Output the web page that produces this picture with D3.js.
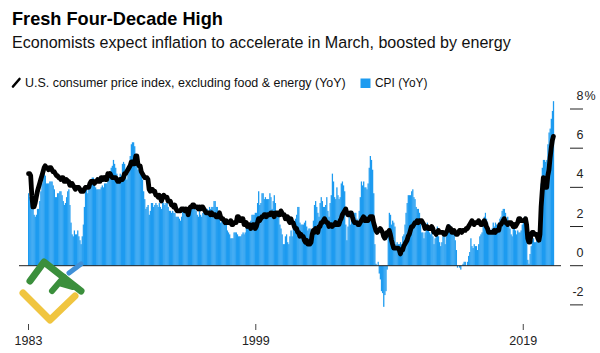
<!DOCTYPE html>
<html>
<head>
<meta charset="utf-8">
<script src="https://cdn.jsdelivr.net/npm/d3@7"></script>
<style>
  body { margin: 0; background: #fff; }
  text { font-family: "Liberation Sans", Arial, sans-serif; }
</style>
</head>
<body>
<div id="chart"></div>
<script>
// monthly YoY %, Jan 1983 .. Mar 2022 (last month = consensus forecast)
const startYear = 1983;

const cpi = [
  3.7, 3.5, 3.6, 3.9, 3.5, 2.6, 2.5, 2.6, 2.9, 2.9, 3.3, 3.8, // 1983
  4.2, 4.6, 4.8, 4.6, 4.2, 4.2, 4.2, 4.3, 4.3, 4.3, 4.1, 3.9, // 1984
  3.5, 3.5, 3.7, 3.7, 3.8, 3.8, 3.6, 3.3, 3.1, 3.2, 3.5, 3.8, // 1985
  3.9, 3.1, 2.2, 1.6, 1.5, 1.8, 1.6, 1.6, 1.8, 1.5, 1.3, 1.1, // 1986
  1.5, 2.1, 3.0, 3.8, 3.9, 3.7, 3.9, 4.3, 4.4, 4.5, 4.5, 4.4, // 1987
  4.0, 3.9, 3.9, 3.9, 3.9, 4.0, 4.1, 4.0, 4.2, 4.2, 4.2, 4.4, // 1988
  4.7, 4.8, 5.0, 5.1, 5.4, 5.2, 5.0, 4.7, 4.3, 4.5, 4.7, 4.6, // 1989
  5.2, 5.3, 5.2, 4.7, 4.4, 4.7, 4.8, 5.6, 6.2, 6.3, 6.3, 6.1, // 1990
  5.7, 5.3, 4.9, 4.9, 5.0, 4.7, 4.4, 3.8, 3.4, 2.9, 3.0, 3.1, // 1991
  2.6, 2.8, 3.2, 3.2, 3.0, 3.1, 3.2, 3.1, 3.0, 3.2, 3.0, 2.9, // 1992
  3.3, 3.2, 3.1, 3.2, 3.2, 3.0, 2.8, 2.8, 2.7, 2.8, 2.7, 2.7, // 1993
  2.5, 2.5, 2.5, 2.4, 2.3, 2.5, 2.8, 2.9, 3.0, 2.6, 2.7, 2.7, // 1994
  2.8, 2.9, 2.9, 3.1, 3.2, 3.0, 2.8, 2.6, 2.5, 2.8, 2.6, 2.5, // 1995
  2.7, 2.7, 2.8, 2.9, 2.9, 2.8, 3.0, 2.9, 3.0, 3.0, 3.3, 3.3, // 1996
  3.0, 3.0, 2.8, 2.5, 2.2, 2.3, 2.2, 2.2, 2.2, 2.1, 1.8, 1.7, // 1997
  1.6, 1.4, 1.4, 1.4, 1.7, 1.7, 1.7, 1.6, 1.5, 1.5, 1.5, 1.6, // 1998
  1.7, 1.6, 1.7, 2.3, 2.1, 2.0, 2.1, 2.3, 2.6, 2.6, 2.6, 2.7, // 1999
  2.7, 3.2, 3.8, 3.1, 3.2, 3.7, 3.7, 3.4, 3.5, 3.4, 3.4, 3.4, // 2000
  3.7, 3.5, 2.9, 3.3, 3.6, 3.2, 2.7, 2.7, 2.6, 2.1, 1.9, 1.6, // 2001
  1.1, 1.1, 1.5, 1.6, 1.2, 1.1, 1.5, 1.8, 1.5, 2.0, 2.2, 2.4, // 2002
  2.6, 3.0, 3.0, 2.2, 2.1, 2.1, 2.1, 2.2, 2.3, 2.0, 1.8, 1.9, // 2003
  1.9, 1.7, 1.7, 2.3, 3.1, 3.3, 3.0, 2.7, 2.5, 3.2, 3.5, 3.3, // 2004
  3.0, 3.0, 3.1, 3.5, 2.8, 2.5, 3.2, 3.6, 4.7, 4.3, 3.5, 3.4, // 2005
  4.0, 3.6, 3.4, 3.5, 4.2, 4.3, 4.1, 3.8, 2.1, 1.3, 2.0, 2.5, // 2006
  2.1, 2.4, 2.8, 2.6, 2.7, 2.7, 2.4, 2.0, 2.8, 3.5, 4.3, 4.1, // 2007
  4.3, 4.0, 4.0, 3.9, 4.2, 5.0, 5.6, 5.4, 4.9, 3.7, 1.1, 0.1, // 2008
  0.0, 0.2, -0.4, -0.7, -1.3, -1.4, -2.1, -1.5, -1.3, -0.2, 1.8, 2.7, // 2009
  2.6, 2.1, 2.3, 2.2, 2.0, 1.1, 1.2, 1.1, 1.1, 1.2, 1.1, 1.5, // 2010
  1.6, 2.1, 2.7, 3.2, 3.6, 3.6, 3.6, 3.8, 3.9, 3.5, 3.4, 3.0, // 2011
  2.9, 2.9, 2.7, 2.3, 1.7, 1.7, 1.4, 1.7, 2.0, 2.2, 1.8, 1.7, // 2012
  1.6, 2.0, 1.5, 1.1, 1.4, 1.8, 2.0, 1.5, 1.2, 1.0, 1.2, 1.5, // 2013
  1.6, 1.1, 1.5, 2.0, 2.1, 2.1, 2.0, 1.7, 1.7, 1.7, 1.3, 0.8, // 2014
  -0.1, 0.0, -0.1, -0.2, 0.0, 0.1, 0.2, 0.2, 0.0, 0.2, 0.5, 0.7, // 2015
  1.4, 1.0, 0.9, 1.1, 1.0, 1.0, 0.8, 1.1, 1.5, 1.6, 1.7, 2.1, // 2016
  2.5, 2.7, 2.4, 2.2, 1.9, 1.6, 1.7, 1.9, 2.2, 2.0, 2.2, 2.1, // 2017
  2.1, 2.2, 2.4, 2.5, 2.8, 2.9, 2.9, 2.7, 2.3, 2.5, 2.2, 1.9, // 2018
  1.6, 1.5, 1.9, 2.0, 1.8, 1.6, 1.8, 1.7, 1.7, 1.8, 2.1, 2.3, // 2019
  2.5, 2.3, 1.5, 0.3, 0.1, 0.6, 1.0, 1.3, 1.4, 1.2, 1.2, 1.4, // 2020
  1.4, 1.7, 2.6, 4.2, 5.0, 5.4, 5.4, 5.3, 5.4, 6.2, 6.8, 7.0, // 2021
  7.5, 7.9, 8.4                                               // 2022
];

const core = [
  4.7, 4.7, 4.6, 3.6, 3.0, 3.0, 3.2, 3.5, 3.8, 4.0, 4.2, 4.4, // 1983
  4.6, 4.8, 5.0, 5.1, 5.0, 5.0, 4.9, 5.0, 5.0, 4.9, 4.8, 4.8, // 1984
  4.7, 4.6, 4.6, 4.5, 4.5, 4.4, 4.5, 4.5, 4.3, 4.3, 4.4, 4.3, // 1985
  4.3, 4.1, 4.1, 4.2, 4.1, 4.0, 3.9, 4.0, 4.0, 4.0, 3.9, 3.8, // 1986
  3.8, 3.8, 3.9, 4.0, 4.0, 4.0, 4.0, 4.2, 4.3, 4.3, 4.3, 4.2, // 1987
  4.3, 4.3, 4.4, 4.3, 4.3, 4.5, 4.5, 4.4, 4.5, 4.4, 4.4, 4.7, // 1988
  4.6, 4.7, 4.6, 4.5, 4.5, 4.5, 4.5, 4.4, 4.3, 4.3, 4.4, 4.4, // 1989
  4.4, 4.5, 4.7, 4.7, 4.8, 4.9, 5.0, 5.1, 5.3, 5.3, 5.2, 5.2, // 1990
  5.6, 5.6, 5.2, 5.1, 5.1, 4.8, 4.7, 4.6, 4.5, 4.5, 4.5, 4.4, // 1991
  3.9, 3.8, 3.9, 3.9, 3.8, 3.8, 3.6, 3.6, 3.5, 3.6, 3.5, 3.3, // 1992
  3.5, 3.6, 3.5, 3.5, 3.5, 3.3, 3.3, 3.3, 3.1, 3.1, 3.0, 3.1, // 1993
  2.9, 2.8, 2.8, 2.8, 2.8, 2.9, 2.9, 2.9, 2.8, 2.9, 2.8, 2.6, // 1994
  2.9, 3.0, 3.0, 3.1, 3.1, 3.0, 3.0, 3.0, 2.9, 3.0, 2.9, 3.0, // 1995
  3.0, 2.9, 2.8, 2.7, 2.7, 2.7, 2.7, 2.6, 2.7, 2.6, 2.6, 2.6, // 1996
  2.5, 2.5, 2.5, 2.7, 2.5, 2.4, 2.4, 2.3, 2.2, 2.3, 2.2, 2.2, // 1997
  2.2, 2.3, 2.1, 2.1, 2.2, 2.2, 2.2, 2.5, 2.5, 2.3, 2.3, 2.4, // 1998
  2.4, 2.1, 2.1, 2.2, 2.0, 2.1, 2.1, 1.9, 2.0, 2.1, 2.1, 1.9, // 1999
  2.0, 2.2, 2.4, 2.3, 2.4, 2.5, 2.5, 2.6, 2.6, 2.5, 2.6, 2.6, // 2000
  2.6, 2.7, 2.7, 2.6, 2.5, 2.7, 2.7, 2.7, 2.6, 2.6, 2.8, 2.7, // 2001
  2.6, 2.6, 2.4, 2.5, 2.5, 2.3, 2.2, 2.4, 2.2, 2.2, 2.0, 1.9, // 2002
  1.9, 1.7, 1.7, 1.5, 1.6, 1.5, 1.5, 1.3, 1.2, 1.3, 1.1, 1.1, // 2003
  1.1, 1.2, 1.6, 1.8, 1.7, 1.9, 1.8, 1.7, 2.0, 2.0, 2.2, 2.2, // 2004
  2.3, 2.4, 2.3, 2.2, 2.2, 2.0, 2.1, 2.1, 2.0, 2.1, 2.1, 2.2, // 2005
  2.1, 2.1, 2.1, 2.3, 2.4, 2.6, 2.7, 2.8, 2.9, 2.7, 2.6, 2.6, // 2006
  2.7, 2.7, 2.5, 2.3, 2.2, 2.2, 2.2, 2.1, 2.1, 2.2, 2.3, 2.4, // 2007
  2.5, 2.3, 2.4, 2.3, 2.3, 2.4, 2.5, 2.5, 2.5, 2.2, 2.0, 1.8, // 2008
  1.7, 1.8, 1.8, 1.9, 1.8, 1.7, 1.5, 1.4, 1.5, 1.7, 1.7, 1.8, // 2009
  1.6, 1.3, 1.1, 0.9, 0.9, 0.9, 0.9, 0.9, 0.8, 0.6, 0.8, 0.8, // 2010
  1.0, 1.1, 1.2, 1.3, 1.5, 1.6, 1.8, 2.0, 2.0, 2.1, 2.2, 2.2, // 2011
  2.3, 2.2, 2.3, 2.3, 2.3, 2.2, 2.1, 1.9, 2.0, 2.0, 1.9, 1.9, // 2012
  1.9, 2.0, 1.9, 1.7, 1.7, 1.6, 1.7, 1.8, 1.7, 1.7, 1.7, 1.7, // 2013
  1.6, 1.6, 1.7, 1.8, 2.0, 1.9, 1.9, 1.7, 1.7, 1.8, 1.7, 1.6, // 2014
  1.6, 1.7, 1.8, 1.8, 1.7, 1.8, 1.8, 1.8, 1.9, 1.9, 2.0, 2.1, // 2015
  2.2, 2.3, 2.2, 2.1, 2.2, 2.2, 2.2, 2.3, 2.2, 2.1, 2.1, 2.2, // 2016
  2.3, 2.2, 2.0, 1.9, 1.7, 1.7, 1.7, 1.7, 1.7, 1.8, 1.7, 1.8, // 2017
  1.8, 1.8, 2.1, 2.1, 2.2, 2.3, 2.4, 2.2, 2.2, 2.1, 2.2, 2.2, // 2018
  2.2, 2.1, 2.0, 2.1, 2.0, 2.1, 2.2, 2.4, 2.4, 2.3, 2.3, 2.3, // 2019
  2.3, 2.4, 2.1, 1.4, 1.2, 1.2, 1.6, 1.7, 1.7, 1.6, 1.6, 1.6, // 2020
  1.4, 1.3, 1.6, 3.0, 3.8, 4.5, 4.3, 4.0, 4.0, 4.6, 4.9, 5.5, // 2021
  6.0, 6.4, 6.6                                               // 2022
];

const yTicks = [-2, 0, 2, 4, 6, 8];
const xTickLabels = ['1983', '1999', '2019'];
const xTickDates = [new Date(1983, 0, 15), new Date(1999, 11, 31), new Date(2019, 11, 15)];

const titleText = 'Fresh Four-Decade High';
const subtitleText = 'Economists expect inflation to accelerate in March, boosted by energy';
const legendLine = 'U.S. consumer price index, excluding food & energy (YoY)';
const legendBar = 'CPI (YoY)';

const W = 600, H = 353;
const blue = '#1d9bf0';

const months = cpi.map((v, i) => new Date(startYear, i, 1));

const svg = d3.select('#chart').append('svg')
  .attr('width', W)
  .attr('height', H);

// shrink/grow a text to a measured width
function fit(sel, w) {
  let len = sel.node().getComputedTextLength();
  let fs = parseFloat(sel.attr('font-size'));
  sel.attr('font-size', (fs * w / len).toFixed(2));
}

// header
svg.append('text')
  .attr('x', 12).attr('y', 25)
  .attr('font-size', 19).attr('font-weight', 'bold')
  .attr('fill', '#000')
  .text(titleText)
  .call(fit, 211);

svg.append('text')
  .attr('x', 12).attr('y', 47.5)
  .attr('font-size', 14.5)
  .attr('fill', '#111')
  .text(subtitleText)
  .call(fit, 499);

// legend
let leg = svg.append('g');
leg.append('line')
  .attr('x1', 13).attr('y1', 86.5).attr('x2', 19.5).attr('y2', 79)
  .attr('stroke', '#000').attr('stroke-width', 2.6).attr('stroke-linecap', 'round');
leg.append('text')
  .attr('x', 25).attr('y', 86.5)
  .attr('font-size', 11.5).attr('fill', '#111')
  .text(legendLine)
  .call(fit, 321);
leg.append('rect')
  .attr('x', 360.5).attr('y', 78.5).attr('width', 10).attr('height', 9.5)
  .attr('fill', blue);
leg.append('text')
  .attr('x', 375).attr('y', 86.5)
  .attr('font-size', 11.5).attr('fill', '#111')
  .text(legendBar)
  .call(fit, 52.5);

// scales
const x = d3.scaleTime()
  .domain([new Date(startYear, 0, 1), new Date(startYear, cpi.length, 1)])
  .range([28, 554]);
const y = d3.scaleLinear()
  .domain([0, 8])
  .range([265.7, 109]);

// bars (tiny overlap so seams stay faint)
svg.append('g')
  .selectAll('rect')
  .data(cpi)
  .join('rect')
    .attr('x', (d, i) => x(months[i]))
    .attr('width', (d, i) => x(new Date(startYear, i + 1, 1)) - x(months[i]) + 0.15)
    .attr('y', d => Math.min(y(d), y(0)))
    .attr('height', d => Math.abs(y(d) - y(0)))
    .attr('fill', blue);

// zero line
svg.append('line')
  .attr('x1', 19).attr('x2', 561)
  .attr('y1', y(0)).attr('y2', y(0))
  .attr('stroke', '#222').attr('stroke-width', 1);

// core line
const line = d3.line()
  .x((d, i) => x(new Date(startYear, i, 15)))
  .y(d => y(d));
svg.append('path')
  .datum(core)
  .attr('d', line)
  .attr('fill', 'none')
  .attr('stroke', '#000')
  .attr('stroke-width', 4.8)
  .attr('stroke-linejoin', 'round')
  .attr('stroke-linecap', 'round');

// right axis
let ya = svg.append('g');
ya.selectAll('line')
  .data(yTicks)
  .join('line')
    .attr('x1', 570).attr('x2', 583)
    .attr('y1', d => y(d)).attr('y2', d => y(d))
    .attr('stroke', '#222').attr('stroke-width', 1);
ya.selectAll('text')
  .data(yTicks)
  .join('text')
    .attr('x', 583.5)
    .attr('y', d => y(d) - 9)
    .attr('text-anchor', 'end')
    .attr('font-size', 12.5)
    .attr('fill', '#222')
    .text(d => d);
ya.append('text')
  .attr('x', 584.5)
  .attr('y', y(d3.max(yTicks)) - 9)
  .attr('font-size', 12.5)
  .attr('fill', '#222')
  .text('%');

// bottom axis
let xa = svg.append('g');
xa.selectAll('line')
  .data(xTickDates)
  .join('line')
    .attr('x1', d => x(d)).attr('x2', d => x(d))
    .attr('y1', 324).attr('y2', 330)
    .attr('stroke', '#444').attr('stroke-width', 1);
xa.selectAll('text')
  .data(xTickDates)
  .join('text')
    .attr('x', d => x(d))
    .attr('y', 345)
    .attr('text-anchor', 'middle')
    .attr('font-size', 12.5)
    .attr('fill', '#222')
    .text((d, i) => xTickLabels[i]);

// watermark logo, bottom left
let logo = svg.append('g').attr('fill', 'none').attr('stroke-linecap', 'round').attr('stroke-linejoin', 'round');
logo.append('path')
  .attr('d', 'M23,293 L50,320 L75,296')
  .attr('stroke', '#f0c540').attr('stroke-width', 7);
logo.append('path')
  .attr('d', 'M30,281 L44,262 L81,291')
  .attr('stroke', '#3b8f3c').attr('stroke-width', 7);
logo.append('path')
  .attr('d', 'M52,291 L64,277 M59,283 L73,287')
  .attr('stroke', '#3b8f3c').attr('stroke-width', 6);
logo.append('path')
  .attr('d', 'M69,273 L81,264')
  .attr('stroke', '#3f90d8').attr('stroke-width', 5);
</script>
</body>
</html>
